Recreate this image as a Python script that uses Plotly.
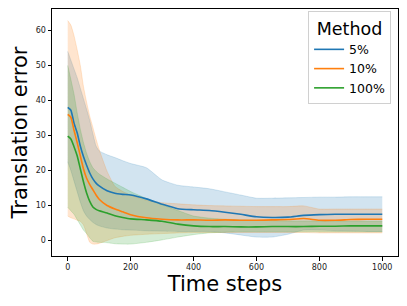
import plotly.graph_objects as go

steps = [0, 10, 20, 30, 40, 50, 60, 70, 80, 90, 100, 125, 150, 175, 200, 250, 300, 350, 400,
         450, 500, 550, 600, 650, 700, 750, 800, 850, 900, 950, 1000]

methods = ["5%", "10%", "100%"]

mean_5 = [38.0, 37.2, 33.5, 30.8, 27.0, 24.0, 21.5, 19.3, 17.6, 16.4, 15.6, 14.2, 13.5, 13.2, 13.0,
          11.9, 10.4, 9.1, 8.8, 8.6, 8.1, 7.5, 6.8, 6.6, 6.7, 7.2, 7.4, 7.5, 7.5, 7.5, 7.5]
upper_5 = [54.0, 51.5, 49.0, 46.5, 43.5, 40.5, 37.5, 34.3, 30.5, 27.0, 25.6, 24.5, 23.7, 22.8, 22.0,
           20.8, 17.3, 15.8, 15.3, 14.8, 13.9, 13.0, 12.1, 12.1, 12.2, 12.3, 12.4, 12.4, 12.5, 12.5, 12.5]
lower_5 = [22.5, 20.0, 17.0, 14.0, 11.0, 8.5, 7.0, 6.0, 5.2, 4.6, 4.2, 3.6, 3.3, 3.1, 3.0,
           2.8, 2.7, 2.6, 2.6, 2.6, 2.2, 1.6, 1.0, 1.0, 1.8, 3.0, 3.0, 2.8, 2.7, 2.6, 2.6]

mean_10 = [36.0, 35.2, 31.5, 28.0, 24.2, 20.5, 17.8, 16.0, 14.5, 13.0, 11.8, 10.0, 9.0, 8.2, 7.4,
           6.5, 6.1, 5.9, 5.9, 5.8, 5.9, 5.8, 5.8, 5.9, 6.0, 6.3, 5.8, 5.8, 6.0, 6.1, 6.1]
upper_10 = [62.8, 61.5, 58.5, 54.5, 50.0, 44.0, 39.5, 35.5, 32.3, 29.0, 26.0, 19.8, 15.5, 14.0, 13.0,
            11.5, 10.8, 10.5, 10.2, 10.0, 9.9, 9.8, 9.7, 9.7, 9.7, 9.9, 9.0, 9.0, 9.0, 9.0, 9.0]
lower_10 = [7.0, 6.5, 6.2, 5.8, 5.5, 4.5, 2.0, -0.5, -1.0, -1.0, -0.8, 0.0, 0.8, 1.2, 1.5,
            1.8, 2.0, 2.2, 2.3, 2.3, 2.3, 2.3, 2.3, 2.3, 2.3, 2.3, 2.2, 2.2, 2.2, 2.2, 2.2]

mean_100 = [29.8, 29.0, 26.8, 24.2, 20.5, 16.8, 13.6, 11.2, 9.6, 8.9, 8.5, 7.9, 7.1, 6.6, 6.2,
            5.9, 5.5, 4.7, 4.2, 4.0, 4.0, 3.9, 3.9, 4.0, 4.0, 4.0, 4.1, 4.1, 4.2, 4.2, 4.2]
upper_100 = [50.0, 46.0, 41.8, 36.5, 31.8, 28.0, 24.9, 22.5, 20.8, 19.8, 19.0, 17.6, 16.4, 15.2, 14.0,
             12.0, 10.2, 8.6, 7.0, 6.4, 6.1, 5.9, 5.8, 5.7, 5.6, 5.6, 5.6, 5.5, 5.5, 5.5, 5.5]
lower_100 = [9.5, 8.5, 7.5, 6.0, 4.5, 3.0, 2.0, 0.8, -0.2, -0.4, -0.5, -0.6, -0.9, -1.0, -1.0,
             -0.5, 0.2, 1.0, 1.7, 2.2, 2.4, 2.5, 2.5, 2.5, 2.5, 2.5, 2.5, 2.5, 2.5, 2.5, 2.5]

x_ticks = [0, 200, 400, 600, 800, 1000]
y_ticks = [0, 10, 20, 30, 40, 50, 60]

colors = ["31,119,180", "255,127,14", "44,160,44"]
means = [mean_5, mean_10, mean_100]
uppers = [upper_5, upper_10, upper_100]
lowers = [lower_5, lower_10, lower_100]

font = "DejaVu Sans"
fig = go.Figure()

for c, lo, up in zip(colors, lowers, uppers):
    fig.add_trace(go.Scatter(x=steps, y=lo, mode="lines", showlegend=False, hoverinfo="skip",
                             line=dict(color=f"rgba({c},0.25)", width=0.7, shape="spline", smoothing=0.5)))
    fig.add_trace(go.Scatter(x=steps, y=up, mode="lines", fill="tonexty", showlegend=False,
                             hoverinfo="skip", fillcolor=f"rgba({c},0.2)",
                             line=dict(color=f"rgba({c},0.25)", width=0.7, shape="spline", smoothing=0.5)))

for name, c, m in zip(methods, colors, means):
    fig.add_trace(go.Scatter(x=steps, y=m, mode="lines", name=name, legendgroup=name,
                             line=dict(color=f"rgb({c})", width=1.6, shape="spline", smoothing=0.5)))

axis_common = dict(showline=True, linecolor="black", linewidth=1, mirror=True,
                   ticks="outside", ticklen=3.5, tickwidth=0.8, tickcolor="black",
                   showgrid=False, zeroline=False, automargin=False,
                   tickfont=dict(family=font, size=8, color="#222"))

# page body has an 8px margin, so the figure is sized to fit the 407x306 window
fig.update_layout(
    width=399, height=298,
    margin=dict(l=44, r=9, t=1, b=50),
    plot_bgcolor="white", paper_bgcolor="white",
    font=dict(family=font, color="black"),
    xaxis=dict(range=[-50, 1050], tickvals=x_ticks,
               title=dict(text="Time steps", font=dict(family=font, size=21), standoff=4),
               **axis_common),
    yaxis=dict(range=[-4.4, 66.1], tickvals=y_ticks,
               title=dict(text="Translation error", font=dict(family=font, size=21), standoff=6),
               **axis_common),
    legend=dict(x=0.98, xanchor="right", y=0.992, yanchor="top",
                bgcolor="white", bordercolor="#d0d0d0", borderwidth=1,
                font=dict(family=font, size=12.5),
                title=dict(text="Method", font=dict(family=font, size=17.5), side="top center"),
                tracegroupgap=0, itemwidth=30),
)

fig.write_html("out.html")
